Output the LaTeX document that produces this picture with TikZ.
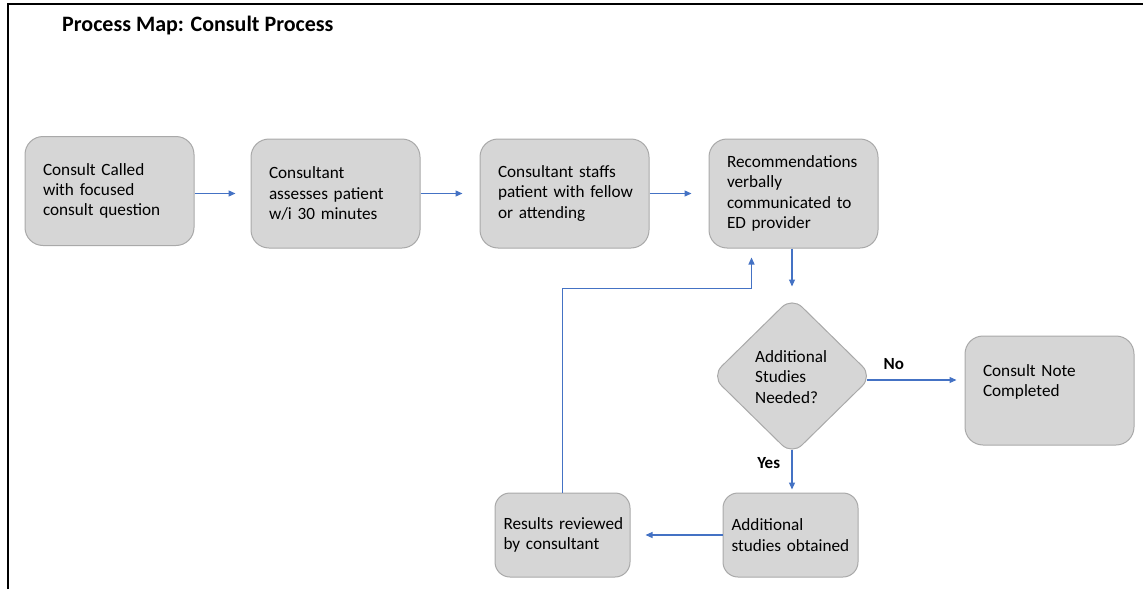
\documentclass[tikz,border=0pt]{standalone}
\usepackage{fontspec}
\setmainfont{Carlito}
\usetikzlibrary{shapes.geometric,arrows.meta}
\definecolor{boxfill}{HTML}{D6D6D6}
\definecolor{boxline}{HTML}{A9A9A9}
\definecolor{flow}{HTML}{4472C4}
\newcommand{\boxfont}{\fontsize{17.2}{20.3}\selectfont\hyphenpenalty=10000\exhyphenpenalty=10000\hbadness=10000\hfuzz=20pt}
\begin{document}
\begin{tikzpicture}[x=1pt,y=-1pt,
  stepbox/.style={draw=boxline, fill=boxfill, line width=1pt, rounded corners=18pt,
    minimum width=169pt, minimum height=109pt, text width=133pt, inner xsep=18pt,
    inner ysep=0pt, align=left, font=\boxfont},
  smallbox/.style={stepbox, minimum width=135pt, minimum height=84pt, text width=118pt,
    inner xsep=8.5pt, rounded corners=15pt},
  decision/.style={diamond, draw=boxline, fill=boxfill, line width=1pt, rounded corners=14pt,
    minimum width=161pt, minimum height=158pt, inner sep=0pt},
  flowarrow/.style={draw=flow, line width=1.2pt, -{Triangle[length=7pt,width=6pt]}},
  branch/.style={font=\fontsize{17}{20}\selectfont\bfseries}]
\useasboundingbox (0,0) rectangle (1143,589);

% page frame
\draw[line width=2.5pt] (8,589) -- (8,4) -- (1143,4);

% title
\node[anchor=base west, inner sep=0pt, font=\fontsize{22}{26}\selectfont\bfseries] (title) at (62,31) {Process Map: Consult Process};

% process steps
\node[stepbox] (called) at (109.5,191) {Consult~Called\\with~focused\\consult~question};
\node[stepbox] (assess) at (335.5,193.5) {Consultant\\assesses~patient\\w/i~30~minutes};
\node[stepbox] (staff) at (564.5,193.5) {Consultant~staffs\\patient~with~fellow\\or~attending};
\node[stepbox] (recommend) at (793.5,193.5) {Recommendations\\verbally\\communicated~to\\ED~provider};

% decision
\node[decision] (needed) at (792,376) {};
\node[anchor=west, align=left, inner sep=0pt, font=\boxfont] (neededtext) at (755,377) {Additional\\Studies\\Needed?};

\node[stepbox] (note) at (1049.5,390.5) {Consult~Note\\Completed\\\mbox{}};
\node[smallbox] (obtained) at (790.5,535) {Additional\\studies~obtained};
\node[smallbox] (reviewed) at (562.5,535) {Results~reviewed\\by~consultant};

% connectors
\draw[flowarrow] (called.east |- assess) -- ([xshift=-15pt]assess.west);
\draw[flowarrow] (assess.east) -- ([xshift=-17pt]staff.west);
\draw[flowarrow] (staff.east) -- ([xshift=-17pt]recommend.west);
\draw[flowarrow] (recommend.south -| needed) -- ([yshift=10pt]needed.north);
\draw[flowarrow] ([xshift=-6pt,yshift=-4pt]needed.east) -- ([xshift=-8pt,yshift=-4pt]needed.east -| note.west)
  node[branch, pos=0.3, above=6pt] (no) {No};
\draw[flowarrow] ([yshift=6pt]needed.south) -- ([yshift=3pt]obtained.north -| needed)
  node[branch, pos=0.33, left=8pt] (yes) {Yes};
\draw[flowarrow] (obtained.west) -- ([xshift=15pt]reviewed.east);
\coordinate (loopcorner) at ([xshift=43pt,yshift=-40pt]recommend.south west);
\draw[flowarrow] (reviewed.north) |- (loopcorner) -- ([xshift=43pt,yshift=-9pt]recommend.south west);
\end{tikzpicture}
\end{document}
